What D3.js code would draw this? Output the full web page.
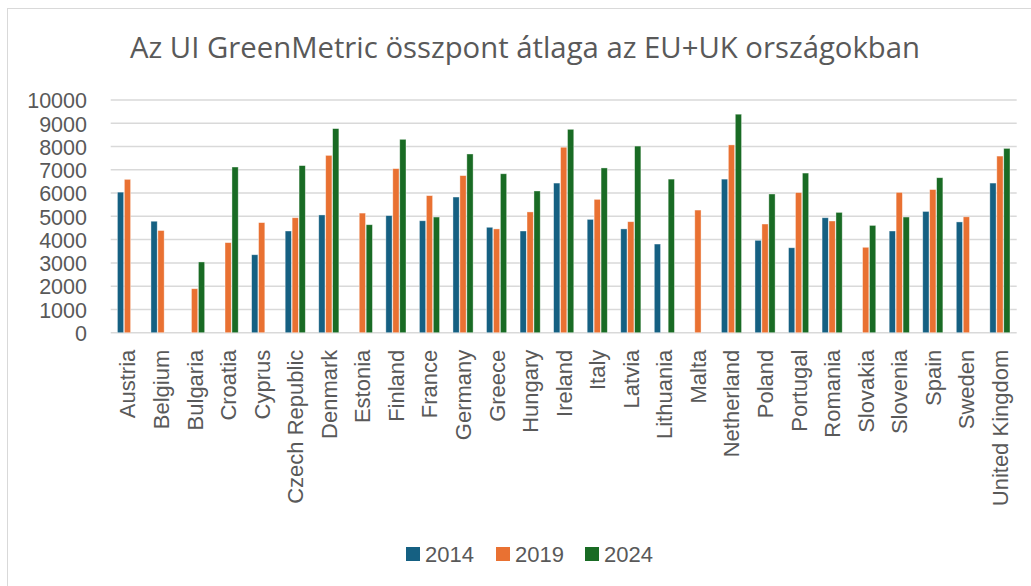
<!DOCTYPE html>
<html>
<head>
<meta charset="utf-8">
<script src="https://cdn.jsdelivr.net/npm/d3@7"></script>
<style>
  body { margin: 0; background: #fff; }
  svg { font-family: "Liberation Sans", Arial, sans-serif; }
</style>
</head>
<body>
<div id="chart"></div>
<script>
// Categories and series
const countries = ["Austria", "Belgium", "Bulgaria", "Croatia", "Cyprus", "Czech Republic",
  "Denmark", "Estonia", "Finland", "France", "Germany", "Greece", "Hungary", "Ireland",
  "Italy", "Latvia", "Lithuania", "Malta", "Netherland", "Poland", "Portugal", "Romania",
  "Slovakia", "Slovenia", "Spain", "Sweden", "United Kingdom"];
const years = ["2014", "2019", "2024"];
const values2014 = [6040, 4790, null, null, 3350, 4370, 5060, null, 5030, 4810, 5830, 4530,
  4370, 6430, 4870, 4460, 3810, null, 6600, 3970, 3650, 4940, null, 4370, 5210, 4760, 6430];
const values2019 = [6590, 4390, 1890, 3870, 4730, 4940, 7620, 5140, 7050, 5890, 6750, 4460,
  5190, 7970, 5730, 4770, null, 5270, 8070, 4670, 6020, 4800, 3670, 6030, 6150, 4980, 7590];
const values2024 = [null, null, 3040, 7120, null, 7180, 8770, 4640, 8310, 4970, 7680, 6830,
  6090, 8740, 7080, 8020, 6600, null, 9390, 5960, 6860, 5170, 4610, 4970, 6660, null, 7920];
const yTicks = [0, 1000, 2000, 3000, 4000, 5000, 6000, 7000, 8000, 9000, 10000];
const colors = ["#156082", "#E97132", "#196B24"];
const title = "Az UI GreenMetric összpont átlaga az EU+UK országokban";

const width = 1031, height = 586;
const plot = { left: 110.7, right: 1016.7, top: 100, bottom: 332.7 };
const textColor = "#595959";

const svg = d3.select("#chart").append("svg")
  .attr("width", width)
  .attr("height", height);

// chart area border
svg.append("rect")
  .attr("x", 7.5).attr("y", 8.5)
  .attr("width", 1040).attr("height", 600)
  .attr("fill", "#fff")
  .attr("stroke", "#d9d9d9")
  .attr("stroke-width", 1);

// title, sized so it spans about the same width as in the original
const titleText = svg.append("text")
  .attr("x", 525).attr("y", 58)
  .attr("text-anchor", "middle")
  .attr("fill", textColor)
  .style("font-family", "'Open Sans', sans-serif")
  .style("font-size", "26px")
  .text(title);
const tw = titleText.node().getComputedTextLength();
titleText.style("font-size", (26 * 790 / tw).toFixed(2) + "px");

// scales
const x0 = d3.scaleBand()
  .domain(countries)
  .range([plot.left, plot.right])
  .paddingInner(0.4)
  .paddingOuter(0.2);

const x1 = d3.scaleBand()
  .domain(years)
  .range([0, x0.bandwidth()])
  .paddingInner(0.1);

const y = d3.scaleLinear()
  .domain([0, 10000])
  .range([plot.bottom, plot.top]);

// gridlines
svg.append("g")
  .selectAll("line")
  .data(yTicks)
  .join("line")
  .attr("x1", plot.left).attr("x2", plot.right)
  .attr("y1", d => y(d)).attr("y2", d => y(d))
  .attr("stroke", "#d9d9d9")
  .attr("stroke-width", 1.5);

// y axis labels
const yAxis = d3.axisLeft(y).tickValues(yTicks).tickSize(0).tickPadding(0).tickFormat(d3.format("d"));
const yAxisG = svg.append("g")
  .attr("transform", "translate(87,0)")
  .call(yAxis);
yAxisG.select(".domain").remove();
yAxisG.selectAll("text")
  .attr("fill", textColor)
  .attr("dy", "0.36em")
  .style("font-size", "21.5px")
  .style("font-family", "Liberation Sans, Arial, sans-serif");

// bars
const series = [values2014, values2019, values2024];
const barData = [];
countries.forEach((c, i) => {
  years.forEach((yr, j) => {
    const v = series[j][i];
    if (v !== null) barData.push({ country: c, year: yr, value: v, color: colors[j] });
  });
});

svg.append("g")
  .selectAll("rect")
  .data(barData)
  .join("rect")
  .attr("x", d => x0(d.country) + x1(d.year))
  .attr("y", d => y(d.value))
  .attr("width", x1.bandwidth())
  .attr("height", d => y(0) - y(d.value))
  .attr("fill", d => d.color)
  .attr("stroke", "#ffffff")
  .attr("stroke-opacity", 0.5)
  .attr("stroke-width", 0.75);

// x axis labels, rotated
const xAxis = d3.axisBottom(x0).tickSize(0).tickPadding(0);
const xAxisG = svg.append("g")
  .attr("transform", `translate(0,${plot.bottom})`)
  .call(xAxis);
xAxisG.select(".domain").remove();
xAxisG.selectAll("text")
  .attr("fill", textColor)
  .attr("transform", "rotate(-90)")
  .attr("text-anchor", "end")
  .attr("x", -17)
  .attr("y", 0)
  .attr("dy", "0.36em")
  .style("font-size", "22px")
  .style("font-family", "Liberation Sans, Arial, sans-serif");

// legend
const legendX = [406, 496, 585];
const legend = svg.append("g")
  .selectAll("g")
  .data(years)
  .join("g")
  .attr("transform", (d, i) => `translate(${legendX[i]},547)`);

legend.append("rect")
  .attr("width", 14).attr("height", 14)
  .attr("fill", (d, i) => colors[i]);

legend.append("text")
  .attr("x", 19).attr("y", 7)
  .attr("dy", "0.36em")
  .attr("fill", textColor)
  .style("font-size", "22px")
  .text(d => d);
</script>
</body>
</html>
